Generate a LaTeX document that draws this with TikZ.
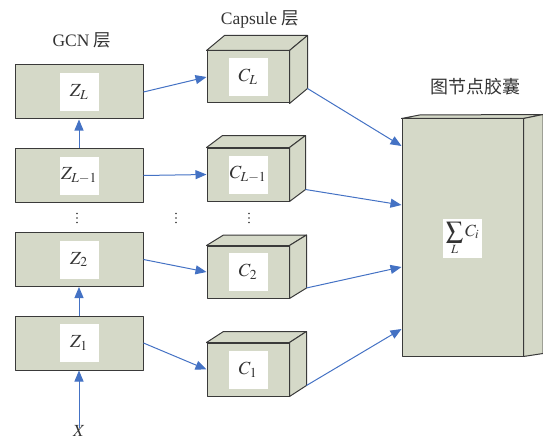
\documentclass[tikz,border=0pt]{standalone}
\usepackage{mathptmx}
\usepackage{fontspec}
\setmainfont{Liberation Serif}
\newfontfamily\cjk{Noto Sans CJK SC}
\usetikzlibrary{arrows.meta}
\definecolor{boxfill}{HTML}{D5D9C8}
\definecolor{edgegray}{HTML}{3A3A3A}
\definecolor{flowblue}{HTML}{4472C4}
\definecolor{ink}{HTML}{333333}

% top and right faces of a cuboid whose front face is node #1, depth (#2,#3)
\newcommand\cuboidfaces[3]{%
  \filldraw[solidface] (#1.north west) -- ++(#2,#3)
    -- ([shift={(#2,#3)}]#1.north east) -- (#1.north east) -- cycle;
  \filldraw[solidface] (#1.north east) -- ([shift={(#2,#3)}]#1.north east)
    -- ([shift={(#2,#3)}]#1.south east) -- (#1.south east) -- cycle;
  \coordinate (#1out) at ([shift={(#2,#3)}]#1.south east);
}
% three stacked dots centred at (#1,#2)
\newcommand\stackdots[2]{%
  \foreach \dy in {-4.5,0,4.5} \fill[ink] (#1,#2+\dy) circle (0.9pt);
}

\begin{document}
\begin{tikzpicture}[x=1pt,y=-1pt,
  solidface/.style={draw=edgegray,fill=boxfill,line width=1pt,line join=round},
  layer/.style={solidface,minimum width=128pt,minimum height=54pt,inner sep=0pt},
  capface/.style={solidface,minimum width=82pt,minimum height=52pt,inner sep=0pt},
  tag/.style={fill=white,minimum width=39pt,minimum height=38pt,inner sep=0pt,text=ink,
    font=\fontsize{18.5}{20}\selectfont},
  title/.style={text=ink,inner sep=0pt,font=\fontsize{17.5}{20}\selectfont},
  flow/.style={draw=flowblue,line width=1pt,-{Triangle[length=11pt,width=9pt]}}]
\useasboundingbox (0,0) rectangle (543,441);

% headings
\node[title] (gcnhead) at (82,40) {GCN {\cjk 层}};
\node[title] (caphead) at (260,19) {Capsule {\cjk 层}};
\node[title,font=\fontsize{18}{20}\selectfont\cjk] (nodehead) at (475,87) {图节点胶囊};

% GCN layers
\node[layer] (zl) at (79,92) {};
\node[tag] (zlt) at (zl) {$Z_L$};
\node[layer] (zm) at (79,175.5) {};
\node[tag] (zmt) at (zm) {$Z_{L-1}$};
\node[layer] (z2) at (79,259.5) {};
\node[tag] (z2t) at (z2) {$Z_2$};
\node[layer] (z1) at (79,343) {};
\node[tag] (z1t) at (z1) {$Z_1$};
\node[text=ink,inner sep=0pt,font=\fontsize{17}{18}\selectfont] (xin) at (79,431) {$X$};

% capsule layer
\node[capface,minimum height=52pt] (cl) at (248,77) {};
\cuboidfaces{cl}{18}{-15}
\node[tag] (clt) at (cl) {$C_L$};
\node[capface,minimum height=53pt] (cm) at (248,174.5) {};
\cuboidfaces{cm}{16}{-12}
\node[tag] (cmt) at (cm) {$C_{L-1}$};
\node[capface] (c2) at (248,272) {};
\cuboidfaces{c2}{17}{-10.5}
\node[tag] (c2t) at (c2) {$C_2$};
\node[capface,minimum height=53pt] (c1) at (248,369.5) {};
\cuboidfaces{c1}{17}{-11}
\node[tag] (c1t) at (c1) {$C_1$};

% graph node capsule
\node[solidface,minimum width=121pt,minimum height=237pt,inner sep=0pt] (big) at (462.5,237.5) {};
\filldraw[solidface] (big.north west) -- ([shift={(18,-3.5)}]big.north west)
  -- ([shift={(19.5,-4)}]big.north east) -- (big.north east) -- cycle;
\filldraw[solidface] (big.north east) -- ([shift={(19.5,-4)}]big.north east)
  -- ([shift={(19.5,-3)}]big.south east) -- (big.south east) -- cycle;
\node[tag,minimum height=39pt,font=\fontsize{17}{18}\selectfont] (sumt) at (462.5,238.5)
  {$\displaystyle\sum_L C_i$};

% vertical ellipses
\stackdots{77}{218}
\stackdots{176}{218}
\stackdots{249}{218}

% connectors
\draw[flow] ([yshift=-3pt]xin.north) -- (z1.south);
\draw[flow] (z1.north) -- (z2.south);
\draw[flow] (zm.north) -- (zl.south);
\draw[flow] (zl.east) -- (cl.west);
\draw[flow] (zm.east) -- (cm.west);
\draw[flow] (z2.east) -- (c2.west);
\draw[flow] (z1.east) -- (c1.west);
\draw[flow] (clout) -- ([yshift=91.5pt]big.west);
\draw[flow] (cmout) -- ([yshift=32.5pt]big.west);
\draw[flow] (c2out) -- ([yshift=-29.5pt]big.west);
\draw[flow] (c1out) -- ([yshift=-91.5pt]big.west);
\end{tikzpicture}
\end{document}
